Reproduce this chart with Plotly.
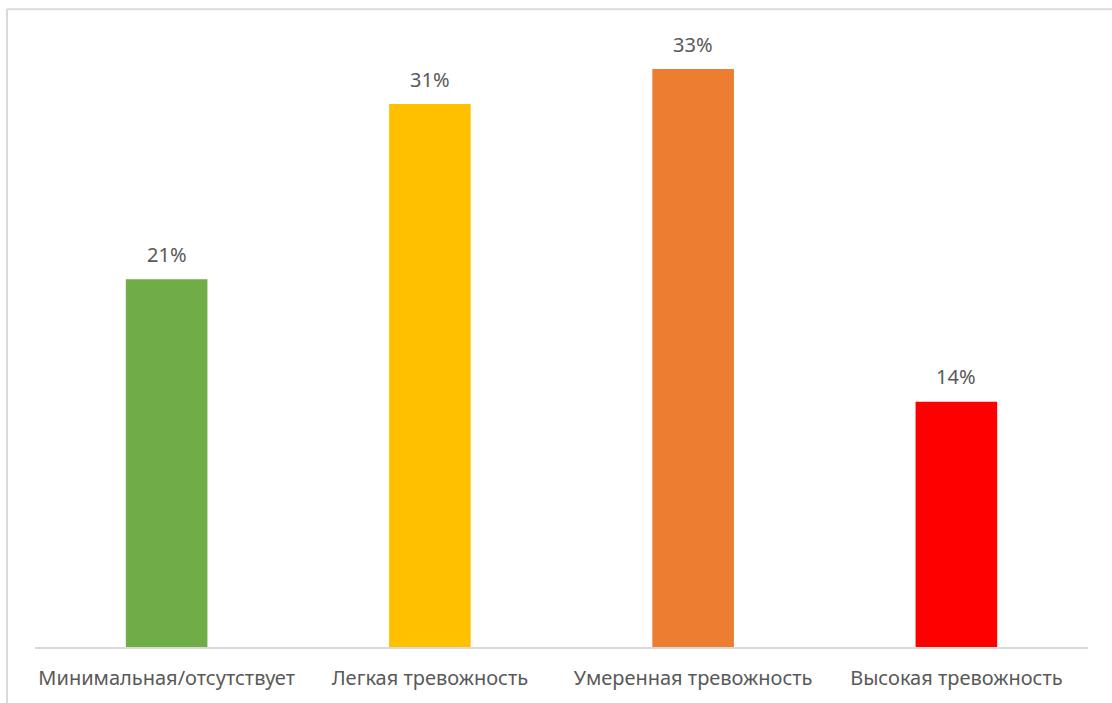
import plotly.graph_objects as go

# Anxiety level distribution (share of respondents, %)
categories = ["Минимальная/отсутствует", "Легкая тревожность",
              "Умеренная тревожность", "Высокая тревожность"]
shares = [21, 31, 33, 14]
bar_colors = ["#70AD47", "#FFC000", "#ED7D31", "#FF0000"]
value_labels = [f"{v}%" for v in shares]

W, H = 1112, 703
L, R, T, B = 35, 24, 34, 52

text_color = "#595959"
font_family = "Noto Sans, Open Sans, sans-serif"

fig = go.Figure(
    go.Bar(
        x=categories,
        y=shares,
        marker=dict(color=bar_colors, line=dict(width=0)),
        hoverinfo="skip",
    )
)

# Value labels above each bar
for cat, val, lab in zip(categories, shares, value_labels):
    fig.add_annotation(
        x=cat, y=val, text=lab, showarrow=False,
        xref="x", yref="y", yanchor="middle", yshift=25,
        font=dict(family=font_family, size=20, color=text_color),
    )

# Light frame around the chart (top and left edges visible)
pw, ph = W - L - R, H - T - B
x_frame = (7 - L) / pw
y_frame = (H - B - 9) / ph
fig.add_shape(type="line", xref="paper", yref="paper",
              x0=x_frame, x1=1.2, y0=y_frame, y1=y_frame,
              line=dict(color="#D9D9D9", width=2))
fig.add_shape(type="line", xref="paper", yref="paper",
              x0=x_frame, x1=x_frame, y0=y_frame, y1=-0.2,
              line=dict(color="#D9D9D9", width=2))

fig.update_layout(
    width=W, height=H,
    margin=dict(l=L, r=R, t=T, b=B, pad=0),
    paper_bgcolor="white", plot_bgcolor="white",
    bargap=0.69,
    showlegend=False,
    xaxis=dict(
        showline=True, linecolor="#D9D9D9", linewidth=2,
        showgrid=False, ticks="", ticklabelstandoff=12,
        tickfont=dict(family=font_family, size=20, color=text_color),
        fixedrange=True,
    ),
    yaxis=dict(
        range=[0, 35], visible=False, showgrid=False, zeroline=False,
        fixedrange=True,
    ),
)

fig.write_html("out.html", config={"displayModeBar": False})
